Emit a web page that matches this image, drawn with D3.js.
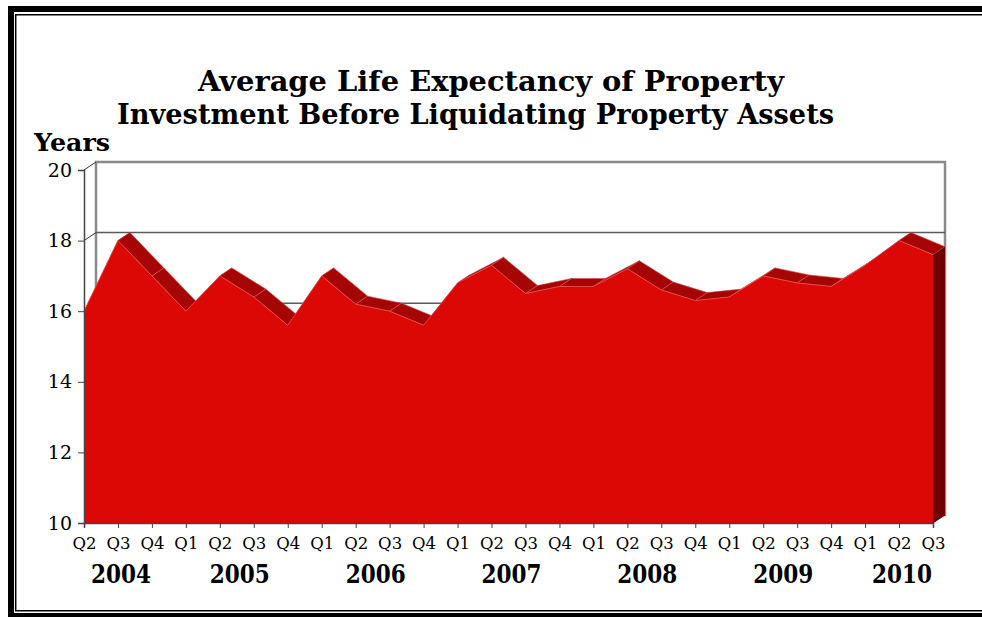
<!DOCTYPE html>
<html>
<head>
<meta charset="utf-8">
<script src="https://cdn.jsdelivr.net/npm/d3@7"></script>
<style>
  html, body { margin: 0; padding: 0; background: #fff; overflow: hidden; }
  svg { display: block; }
  text { font-family: "DejaVu Serif", serif; fill: #000; }
</style>
</head>
<body>
<svg id="chart" width="982" height="617"></svg>
<script>
// Quarterly periods, Q2 2004 through Q3 2010
const quarterLabels = ["Q2","Q3","Q4",
  "Q1","Q2","Q3","Q4",
  "Q1","Q2","Q3","Q4",
  "Q1","Q2","Q3","Q4",
  "Q1","Q2","Q3","Q4",
  "Q1","Q2","Q3","Q4",
  "Q1","Q2","Q3"];
const quarterYears = [2004,2004,2004,
  2005,2005,2005,2005,
  2006,2006,2006,2006,
  2007,2007,2007,2007,
  2008,2008,2008,2008,
  2009,2009,2009,2009,
  2010,2010,2010];
const yearLabels = ["2004","2005","2006","2007","2008","2009","2010"];
// Average life expectancy (years)
const lifeExpectancy = [16.0,18.0,17.0,
  16.0,17.0,16.4,15.6,
  17.0,16.2,16.0,15.6,
  16.8,17.3,16.5,16.7,
  16.7,17.2,16.6,16.3,
  16.4,17.0,16.8,16.7,
  17.3,18.0,17.6];
const yTicks = [10,12,14,16,18,20];
const titleLines = ["Average Life Expectancy of Property",
  "Investment Before Liquidating Property Assets"];

(function () {
const svg = d3.select("#chart");
const W = 982;

// plot frame and 3D depth offset
const plotLeft = 84, plotRight = 933, plotTop = 170, plotBottom = 523;
const dx = 12, dy = -8;

const x = d3.scaleLinear().domain([0, lifeExpectancy.length - 1]).range([plotLeft, plotRight]);
const y = d3.scaleLinear().domain([10, 20]).range([plotBottom, plotTop]);

// outer double border (left, top and bottom edges; the right edge lies off the page)
const border = d3.line();
svg.append("path").attr("d", border([[W, 9], [11, 9], [11, 616], [W, 616]]))
  .attr("fill", "none").attr("stroke", "#000").attr("stroke-width", 6);
svg.append("path").attr("d", border([[W, 14.8], [15.7, 14.8], [15.7, 610.7], [W, 610.7]]))
  .attr("fill", "none").attr("stroke", "#000").attr("stroke-width", 1.5);

// back wall
const wall = svg.append("g");
wall.append("rect")
  .attr("x", plotLeft + dx).attr("y", y(20) + dy)
  .attr("width", plotRight - plotLeft).attr("height", plotBottom - plotTop)
  .attr("fill", "#fff").attr("stroke", "#8a8a8a").attr("stroke-width", 2.5);

// gridlines on the back wall plus the side-wall diagonals
yTicks.forEach(v => {
  if (v > 10 && v < 20) {
    wall.append("line")
      .attr("x1", plotLeft + dx).attr("x2", plotRight + dx)
      .attr("y1", y(v) + dy).attr("y2", y(v) + dy)
      .attr("stroke", "#5a5a5a").attr("stroke-width", 1.5);
  }
  wall.append("line")
    .attr("x1", plotLeft).attr("y1", y(v))
    .attr("x2", plotLeft + dx).attr("y2", y(v) + dy)
    .attr("stroke", "#333").attr("stroke-width", 1);
});
// floor edge on the right
wall.append("line")
  .attr("x1", plotRight).attr("y1", plotBottom)
  .attr("x2", plotRight + dx).attr("y2", plotBottom + dy)
  .attr("stroke", "#333").attr("stroke-width", 1);

// top faces of the extruded area
const faces = svg.append("g");
const pts = lifeExpectancy.map((v, i) => [x(i), y(v)]);
for (let i = 0; i < pts.length - 1; i++) {
  const a = pts[i], b = pts[i + 1];
  faces.append("path")
    .attr("d", d3.line()([a, b, [b[0] + dx, b[1] + dy], [a[0] + dx, a[1] + dy]]) + "Z")
    .attr("fill", "#a60505").attr("stroke", "#d84a4a").attr("stroke-width", 0.6)
    .attr("stroke-linejoin", "round");
}
// right side face
const last = pts[pts.length - 1];
faces.append("path")
  .attr("d", d3.line()([last, [last[0] + dx, last[1] + dy], [plotRight + dx, plotBottom + dy], [plotRight, plotBottom]]) + "Z")
  .attr("fill", "#6e0000");

// front face
const area = d3.area()
  .x((d, i) => x(i))
  .y0(y(10))
  .y1(d => y(d));
svg.append("path").datum(lifeExpectancy)
  .attr("d", area)
  .attr("fill", "#dc0806");
svg.append("path").datum(lifeExpectancy)
  .attr("d", d3.line().x((d, i) => x(i)).y(d => y(d)))
  .attr("fill", "none").attr("stroke", "#e85a5a").attr("stroke-width", 0.6);

// y axis
const yAxis = svg.append("g").attr("transform", `translate(${plotLeft},0)`)
  .call(d3.axisLeft(y).tickValues(yTicks).tickSize(6).tickPadding(6).tickFormat(d3.format("d")));
yAxis.select(".domain").attr("stroke", "#444").attr("stroke-width", 1.5);
yAxis.selectAll(".tick line").attr("stroke", "#444");
yAxis.selectAll("text").style("font-family", "DejaVu Serif").style("font-size", "19px").attr("fill", "#000");

// x axis
const xAxis = svg.append("g").attr("transform", `translate(0,${plotBottom})`)
  .call(d3.axisBottom(x).tickValues(d3.range(quarterLabels.length)).tickSize(5).tickPadding(9)
    .tickFormat(i => quarterLabels[i]));
xAxis.select(".domain").attr("stroke", "#444").attr("stroke-width", 1.5);
xAxis.selectAll(".tick line").attr("stroke", "#444");
xAxis.selectAll("text").style("font-family", "DejaVu Serif").style("font-size", "16.5px").attr("fill", "#000");

// year labels centred under each year's quarters
yearLabels.forEach(yr => {
  const idx = d3.range(quarterYears.length).filter(i => String(quarterYears[i]) === yr);
  const cx = d3.mean(idx, i => x(i)) + 3;
  svg.append("text")
    .attr("x", cx).attr("y", 583)
    .attr("text-anchor", "middle")
    .attr("textLength", 60).attr("lengthAdjust", "spacingAndGlyphs")
    .style("font-weight", "bold").style("font-size", "26px")
    .text(yr);
});

// axis title
svg.append("text").attr("x", 34).attr("y", 151)
  .attr("textLength", 76).attr("lengthAdjust", "spacingAndGlyphs")
  .style("font-weight", "bold").style("font-size", "24px")
  .text("Years");

// chart title
const titleCenters = [491, 475.5];
const titleWidths = [586, 717];
const titleBaselines = [91, 124];
titleLines.forEach((t, i) => {
  svg.append("text")
    .attr("x", titleCenters[i]).attr("y", titleBaselines[i])
    .attr("text-anchor", "middle")
    .attr("textLength", titleWidths[i]).attr("lengthAdjust", "spacingAndGlyphs")
    .style("font-weight", "bold").style("font-size", "27px")
    .text(t);
});
})();
</script>
</body>
</html>
